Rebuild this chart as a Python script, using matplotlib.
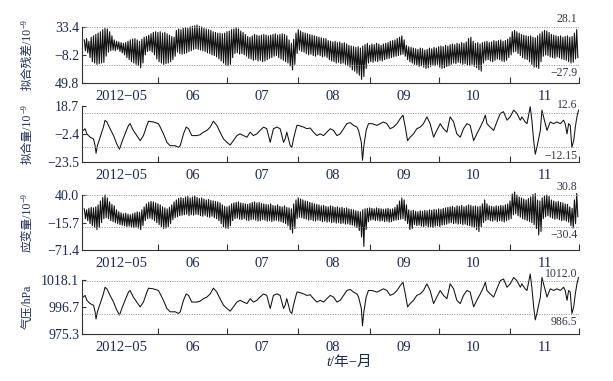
import matplotlib

matplotlib.use("Agg")
from datetime import datetime

import matplotlib.dates as mdates
import matplotlib.pyplot as plt
import numpy as np
from matplotlib.ticker import FixedLocator, FuncFormatter, NullFormatter

plt.rcParams["font.family"] = ["Liberation Serif", "Noto Sans CJK SC", "DejaVu Sans"]
plt.rcParams["axes.unicode_minus"] = True

INK = "#1c2a56"
LINE = "#111111"
GRID = "#8e8e8e"

START = mdates.date2num(datetime(2012, 5, 1))

# ---- data (days counted from 2012-05-01) ----
# daily high / low of the hourly residual and strain records, Apr 30 .. Nov 30
osc_days = list(range(-1, 214))

resid_hi = [14, 16, 12, 18, 20, 22, 24, 26, 29, 31, 30, 26, 20, 14, 12, 11, 10, 9, 10,
            12, 14, 15, 16, 14, 12, 15, 18, 19, 21, 23, 25, 26, 25, 26, 24, 25, 23, 21, 19, 18,
            28, 30, 29, 31, 32, 31, 33, 34, 35, 36, 34, 33, 31, 30, 29, 28, 26, 25, 24, 24, 23, 24,
            26, 27, 29, 30, 32, 30, 27, 25, 22, 19, 18, 20, 22, 21, 20, 21, 22, 21, 20, 21,
            22, 23, 21, 22, 23, 22, 20, 14, 9, 15, 24, 29, 27, 25,
            24, 23, 22, 21, 20, 19, 18, 17, 16, 16, 13, 12, 11, 12, 10, 11, 9, 10, 8, 6,
            5, 4, 3, 4, 2, 5, 7, 9, 6, 8, 7, 9, 8, 6, 8, 9, 10, 12, 13, 14, 16, 18, 20, 14,
            6, 4, 3, 2, 1, 0, 2, 1, -1, 0, 2, 1, 3, 2, 4, 5, 4, 6, 5, 7,
            8, 7, 9, 8, 10, 9, 11, 16, 18, 12, 9, 10, 8, 10, 11, 12, 10, 11, 13, 12, 13, 14, 12, 13, 15, 18,
            26, 28, 26, 24, 22, 21, 20, 19, 20, 18, 17, 20, 23, 26, 28, 27, 25,
            22, 21, 20, 19, 20, 18, 19, 20, 18, 19, 24, 29]
resid_lo = [-2, -5, -12, -18, -20, -22, -21, -20, -19, -10, -4, -2, -1, -2, 0, -3, -5, -8,
            -12, -15, -18, -20, -22, -24, -27, -20, -8, -3, -2, -4, -8,
            -14, -18, -20, -22, -21, -20, -18, -15, -10, -4, -6, -7, -6, -5, -3, -2,
            0, 1, 0, -1, -2, -3, -5, -6, -8, -9, -11, -14, -17, -20, -23, -24, -22,
            -12, -6, -5, -7, -6, -8, -10, -13, -14, -16, -15, -17, -16, -18, -17, -15, -13, -12,
            -10, -9, -12, -14, -16, -18, -20, -24, -30, -22,
            -6, -1, -3, -4, -6, -8, -7, -9, -10, -8, -9, -11, -10, -12,
            -15, -17, -18, -20, -19, -21, -20, -22, -24, -26, -30, -32, -35, -38, -44, -40, -28,
            -20, -18, -19, -17, -18, -16, -17, -15, -14, -13, -12, -11, -10, -9, -8, -7, -10,
            -15, -18, -20, -22, -23, -25, -24, -26, -28, -27, -25, -23, -24, -22, -26, -28, -27, -25, -24, -22,
            -20, -21, -19, -20, -22, -21, -23, -24, -22, -25, -27, -30, -32,
            -20, -16, -15, -17, -18, -16, -14, -15, -17, -18, -16, -12, -8,
            -4, -3, -6, -9, -12, -14, -15, -18, -22, -26, -26, -28, -18,
            -10, -8, -9, -11, -12, -13, -11, -12, -14, -15, -16, -18, -20, -19, -14, -12]

strain_hi = [12, 10, 13, 15, 14, 16, 20, 28, 35, 40, 34, 26, 21, 18, 10, 6, 4, 2, 3, 1, 0, 2,
             4, 6, 5, 10, 16, 22, 25, 27, 26, 24, 22, 20, 16, 14, 12, 15, 20, 26, 30, 33,
             35, 33, 36, 37, 34, 36, 38, 35, 33, 34, 32, 30, 31, 29, 28, 27, 26, 24, 20, 17, 16, 18,
             22, 24, 25, 26, 24, 23, 22, 21, 23, 25, 26, 24, 25, 23, 22,
             21, 20, 22, 19, 18, 20, 17, 16, 18, 15, 14, 12, 22, 30, 34, 32, 30,
             28, 27, 25, 24, 22, 21, 20, 18, 19, 17, 16, 18, 17, 15, 16, 14, 15, 13, 14, 12, 11, 10, 8, 7, 6,
             10, 12, 13, 14, 13, 12, 14, 13, 12, 11, 12, 13, 11, 12, 15, 20, 28, 34, 30, 20,
             10, 8, 9, 7, 6, 8, 7, 9, 8, 10, 9, 11, 10, 12, 11, 13, 14,
             15, 16, 17, 15, 18, 17, 19, 16, 18, 20, 19, 17, 18, 16, 17,
             22, 30, 22, 18, 17, 16, 18, 17, 19, 18, 20, 22, 28,
             42, 46, 40, 36, 34, 32, 30, 33, 36, 41, 43, 30, 28, 34, 38, 40, 37,
             30, 28, 26, 27, 25, 24, 22, 21, 16, 13, 30, 43]
strain_lo = [-8, -12, -18, -22, -25, -30, -26, -16, -8, -6, -8, -12, -14, -16, -18, -20,
             -21, -22, -24, -23, -25, -26, -25, -27, -30, -22, -12, -8, -7, -9, -12, -16,
             -20, -24, -28, -27, -24, -18, -10, -6, -4, -2,
             -1, 0, 1, -2, 0, -1, 1, 0, -2, -3, -1, -4, -5, -3, -6, -8, -12, -18, -24, -27, -28, -22,
             -12, -8, -7, -9, -10, -8, -11, -12, -10, -9, -11, -13, -12, -10, -11, -13, -12, -14,
             -12, -11, -13, -14, -16, -18, -22, -30, -37, -28,
             -8, -5, -6, -8, -9, -11, -10, -12, -13, -11, -12, -14, -13, -15, -14, -16, -15, -17,
             -16, -18, -17, -19, -18, -20, -21, -23, -26, -32, -45, -64, -30,
             -14, -11, -10, -12, -11, -13, -12, -14, -13, -15, -14, -12, -11, -10, -9, -8, -12, -18, -30, -28,
             -20, -22, -21, -23, -24, -22, -25, -24, -26, -23, -22, -24, -21, -20, -19,
             -17, -16, -18, -17, -19, -18, -20, -19, -21, -22, -24, -26, -30, -34, -24,
             -16, -12, -10, -12, -13, -11, -14, -12, -13, -15, -12, -10, -8,
             0, 2, -2, -5, -8, -10, -12, -14, -16, -20, -28, -41, -34,
             -8, -4, -2, -5, -7, -9, -8, -10, -12, -11, -13, -15, -22, -27, -18, -4]

# fitted pressure response and barometric pressure, read at irregular days
fit_days = [-1.4, -0.65, 0.1, 1.5, 3.0, 3.7, 4.1, 4.7, 5.9, 7.3, 8.0, 8.8, 10.2, 11.7, 13.1,
            14.3, 15.3, 16.7, 18.2, 18.9, 20.3, 21.8, 23.3, 24.7, 26.2, 26.9, 29.0, 31.2, 32.0,
            33.4, 34.9, 36.3, 38.5, 39.9, 40.7, 42.1, 43.3, 44.3, 45.7, 47.9, 49.3, 50.8, 52.3,
            53.7, 55.1, 56.6, 58.0, 59.5, 61.0, 62.4, 63.8, 65.3, 66.7, 68.2, 69.7, 71.1, 72.5,
            74.0, 75.4, 76.9, 78.3, 79.8, 81.2, 82.7, 84.1, 85.6, 86.3, 87.0, 88.5, 89.2, 89.9,
            91.4, 92.1, 94.3, 95.7, 97.2, 98.6, 100.1, 101.5, 103.0, 104.4, 105.9, 107.3, 108.8,
            110.2, 111.7, 113.1, 114.6, 116.0, 117.5,
            118.2, 119.4, 119.9, 120.5, 121.5, 122.5, 124.0, 126.2, 127.6, 129.0, 130.5, 131.9,
            133.4, 134.9, 136.3, 137.5, 138.5, 139.5, 140.6, 142.1, 143.5, 145.0, 146.4, 147.9,
            149.3, 150.8, 152.2, 153.7, 155.1, 156.6, 158.0, 159.5, 160.9, 162.4, 163.8, 165.3,
            166.7, 168.2, 169.6, 171.1, 172.5, 173.3, 174.0, 175.4, 176.9, 178.3, 179.8, 181.2,
            182.7, 184.1, 185.6, 187.0, 188.5, 189.2, 190.6, 191.4, 192.8, 193.5, 194.3, 195.0,
            195.7, 197.2, 197.9, 198.6, 200.1, 201.5, 203.0, 204.4, 205.9, 207.3, 208.0, 208.8,
            209.5, 210.2, 210.9, 211.7, 212.4, 213.1, 213.8]
fit_vals = [0.3, 1.6, -2.3, -4.8, -6.1, -11.2, -16.9, -11.2, -4.8, 2.8, 7.9, 6.7, 1.6, -3.6,
            -9.9, -13.8, -8.7, -2.3, 4.1, 5.4, 0.3, -3.6, -7.4, -3.6, 4.1, 7.2, 6.7, 5.4, 2.8,
            -2.3, -8.7, -11.2, -11.2, -12.5, -11.2, -2.3, 2.8, 1.6, -3.6, -3.6, -3.0, -1.0, 0.3,
            2.8, 7.2, 4.1, -1.0, -6.1, -8.7, -10.7, -7.4, -3.6, -2.3, -3.6, -4.8, -1.0, -3.6,
            -2.3, 0.3, 2.8, 1.6, -8.7, 1.6, 2.8, 1.6, -8.7, -6.1, -1.0, -11.2, -12.5, -6.1,
            4.1, 4.1, 2.8, 1.6, 2.1, -1.0, -3.6, -2.3, -3.6, -1.0, 1.6, 0.3, -3.6, -2.3, 1.6,
            5.4, 6.2, 4.1, 2.8,
            0.3, -8.7, -22.2, -11.2, 0.3, 5.4, 5.4, 4.1, 5.4, 6.7, 5.4, 1.6, 2.8, 5.4, 9.2,
            11.8, 2.8, -7.4, -4.8, -2.3, 1.6, 2.8, 5.4, 10.5, 5.4, -4.8, 0.3, 5.4, 1.6, -1.0,
            10.5, 6.7, -2.3, -4.8, 1.6, 5.4, 4.1, -7.4, -2.3, 2.8, 8.0, 11.8, 5.4, 2.8, 0.3,
            6.7, 13.1, 14.4, 8.0, 10.5, 15.6, 13.1, 8.0, 10.5, 6.7, 5.4, 18.2, 8.0, -7.4,
            -17.6, -12.5, 0.3, 15.6, 10.5, 0.3, 6.7, 5.4, 6.7, 5.4, 8.0, 5.4, -2.3, 5.4, 4.1,
            -12.5, -7.4, 2.8, 10.5, 15.6]
pres_vals = [1004.6, 1005.9, 1002.0, 999.4, 998.1, 992.9, 987.2, 992.9, 999.4, 1007.1, 1012.3,
             1011.1, 1005.9, 1000.6, 994.3, 990.3, 995.5, 1002.0, 1008.5, 1009.8, 1004.6, 1000.6,
             996.8, 1000.6, 1008.5, 1011.6, 1011.1, 1009.8, 1007.1, 1002.0, 995.5, 992.9, 992.9,
             991.6, 992.9, 1002.0, 1007.1, 1005.9, 1000.6, 1000.6, 1001.3, 1003.3, 1004.6,
             1007.1, 1011.6, 1008.5, 1003.3, 998.1, 995.5, 993.4, 996.8, 1000.6, 1002.0, 1000.6,
             999.4, 1003.3, 1000.6, 1002.0, 1004.6, 1007.1, 1005.9, 995.5, 1005.9, 1007.1,
             1005.9, 995.5, 998.1, 1003.3, 992.9, 991.6, 998.1, 1008.5, 1008.5, 1007.1, 1005.9,
             1006.4, 1003.3, 1000.6, 1002.0, 1000.6, 1003.3, 1005.9, 1004.6, 1000.6, 1002.0,
             1005.9, 1009.8, 1010.6, 1008.5, 1007.1,
             1004.6, 995.5, 981.8, 992.9, 1004.6, 1009.8, 1009.8, 1008.5, 1009.8, 1011.1,
             1009.8, 1005.9, 1007.1, 1009.8, 1013.6, 1016.3, 1007.1, 996.8, 999.4, 1002.0,
             1005.9, 1007.1, 1009.8, 1015.0, 1009.8, 999.4, 1004.6, 1009.8, 1005.9, 1003.3,
             1015.0, 1011.1, 1002.0, 999.4, 1005.9, 1009.8, 1008.5, 996.8, 1002.0, 1007.1,
             1012.4, 1016.3, 1009.8, 1007.1, 1004.6, 1011.1, 1017.6, 1018.9, 1012.4, 1015.0,
             1020.1, 1017.6, 1012.4, 1015.0, 1011.1, 1009.8, 1022.8, 1012.4, 996.8, 986.5,
             991.6, 1004.6, 1020.1, 1015.0, 1004.6, 1011.1, 1009.8, 1011.1, 1009.8, 1012.4,
             1009.8, 1002.0, 1009.8, 1008.5, 991.6, 996.8, 1007.1, 1015.0, 1020.1]

# axis ticks, reference lines and their notes, per panel
ylabels = ["拟合残差/10", "拟合量/10", "应变量/10", "气压/hPa"]
ylabel_sups = ["−9", "−9", "−9", ""]
yticks = [[33.4, -8.2, -49.8], [18.7, -2.4, -23.5], [40.0, -15.7, -71.4], [1018.1, 996.7, 975.3]]
yticklabels = [["33.4", "−8.2", "49.8"], ["18.7", "−2.4", "−23.5"],
               ["40.0", "−15.7", "−71.4"], ["1018.1", "996.7", "975.3"]]
ref_lines = [[33.0, -22.2], [13.1, -12.5], [39.5, -24.2], [1017.5, 991.4]]
ref_notes = [["28.1", "−27.9"], ["12.6", "−12.15"], ["30.8", "−30.4"], ["1012.0", "986.5"]]


def month_label(x, pos):
    d = mdates.num2date(x)
    return "2012−05" if d.month == 5 else f"{d.month:02d}"


def zigzag(days, hi, lo):
    t = np.repeat(np.asarray(days, float), 2) + np.tile([0.0, 0.5], len(days))
    v = np.column_stack([hi, lo]).ravel()
    return START + t, v


fig = plt.figure(figsize=(6.13, 3.81), dpi=100)
W, H = 613, 381
boxes = [(26.7, 83.3), (106, 162), (195, 250), (280, 334)]
axes = []
for top, bot in boxes:
    axes.append(fig.add_axes([82 / W, 1 - bot / H, 497 / W, (bot - top) / H]))

t, v = zigzag(osc_days, resid_hi, resid_lo)
axes[0].plot(t, v, color=LINE, lw=0.8, clip_on=False)
axes[1].plot(START + np.array(fit_days), fit_vals, color=LINE, lw=0.75, clip_on=False)
t, v = zigzag(osc_days, strain_hi, strain_lo)
axes[2].plot(t, v, color=LINE, lw=0.8, clip_on=False)
axes[3].plot(START + np.array(fit_days), pres_vals, color=LINE, lw=0.75, clip_on=False)

label_texts = []
for i, ax in enumerate(axes):
    ax.set_xlim(START - 2, START + 214)
    ax.set_ylim(yticks[i][2], yticks[i][0])
    for s in ("top", "right"):
        ax.spines[s].set_visible(False)
    for s in ("left", "bottom"):
        ax.spines[s].set_color("#333333")
        ax.spines[s].set_linewidth(0.8)

    ax.xaxis.set_major_locator(mdates.MonthLocator(bymonth=range(6, 13)))
    ax.xaxis.set_major_formatter(NullFormatter())
    ax.xaxis.set_minor_locator(mdates.MonthLocator(bymonthday=16))
    ax.xaxis.set_minor_formatter(FuncFormatter(month_label))
    ax.tick_params(axis="x", which="major", direction="in", length=4, width=0.8, color="#333333")
    ax.tick_params(axis="x", which="minor", length=0, pad=5, labelsize=10.5, labelcolor=INK)

    ax.yaxis.set_major_locator(FixedLocator(yticks[i]))
    ax.set_yticklabels(yticklabels[i])
    ax.tick_params(axis="y", direction="in", length=3, width=0.8, pad=2,
                   labelsize=10, labelcolor=INK, color="#333333")

    for k, yv in enumerate(ref_lines[i]):
        ax.axhline(yv, color=GRID, ls=(0, (1, 1.5)), lw=0.7)
        up = k == 0
        ax.annotate(ref_notes[i][k], (1.0, yv), xycoords=("axes fraction", "data"),
                    xytext=(-1, (0.5 if i == 3 else 1.5) if up else -2),
                    textcoords="offset points",
                    ha="right", va="bottom" if up else "top",
                    fontsize=8.5, color="#3a3348", annotation_clip=False)

    # y label: main part plus a small raised exponent, stacked along the rotated baseline
    top, bot = boxes[i]
    main = fig.text(28 / W, 1 - (top + bot) / 2 / H, ylabels[i], rotation=90,
                    ha="center", va="center", fontsize=8.5, color=INK)
    sup = None
    if ylabel_sups[i]:
        sup = fig.text(0, 0, ylabel_sups[i], rotation=90, ha="center", va="bottom",
                       fontsize=6, color=INK)
    label_texts.append((main, sup, top, bot))

fig.text(330 / W, 1 - 362 / H, "t", ha="right", va="center", fontsize=10.5,
         style="italic", color=INK)
fig.text(330 / W, 1 - 362 / H, "/年−月", ha="left", va="center", fontsize=10.5, color=INK)

# centre each label (with its exponent) on its panel
fig.canvas.draw()
renderer = fig.canvas.get_renderer()
for main, sup, top, bot in label_texts:
    cy = H - (top + bot) / 2
    mh = main.get_window_extent(renderer).height
    sh = sup.get_window_extent(renderer).height if sup is not None else 0
    total = mh + sh
    y0 = cy - total / 2
    main.set_position((28 / W, (y0 + mh / 2) / H))
    if sup is not None:
        sup.set_position((24.5 / W, (y0 + mh) / H))

fig.savefig("out.png", dpi=100)
